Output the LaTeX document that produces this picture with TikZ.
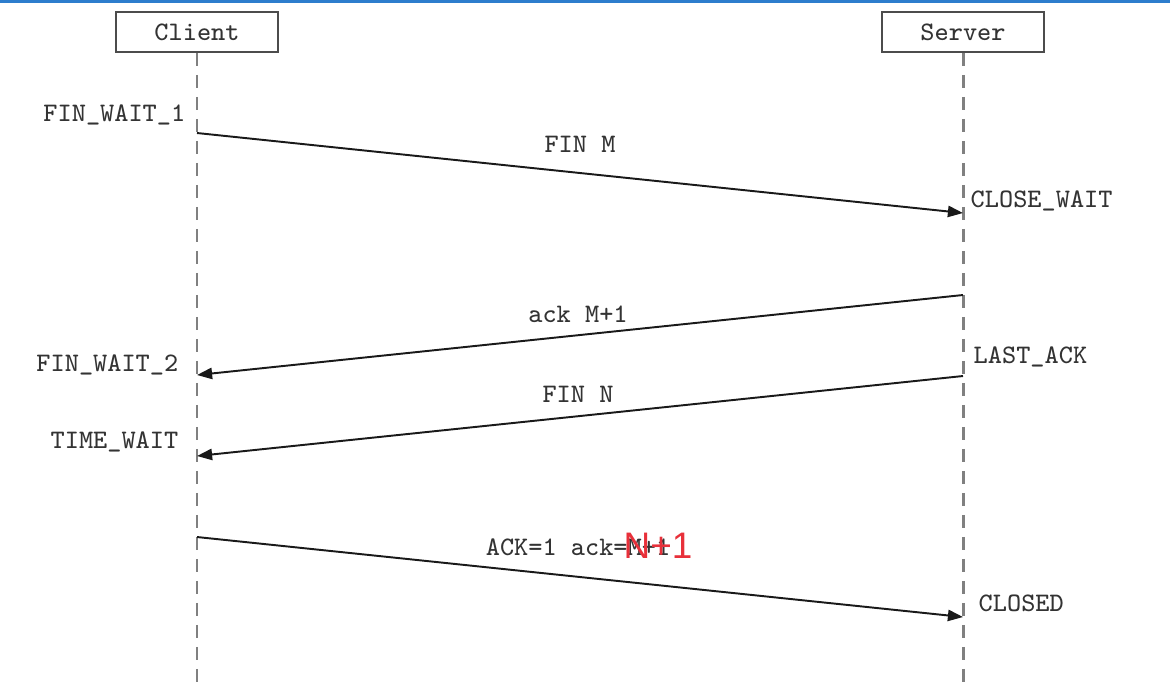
\documentclass[tikz,border=0pt]{standalone}
\usepackage{fontspec}
\setsansfont{Liberation Sans}
\usepackage{tikz}
\usetikzlibrary{arrows.meta}

\definecolor{barra}{RGB}{45,125,205}
\definecolor{rojo}{RGB}{232,48,58}

\begin{document}
\begin{tikzpicture}[
    font=\fontsize{7.6}{9}\selectfont\ttfamily,
    actor/.style  ={draw=black!70, line width=0.55pt, fill=white, minimum width=1.62cm,
                    minimum height=0.40cm, inner sep=0pt, text=black!80},
    vida/.style   ={draw=black!50, line width=0.85pt, dash pattern=on 0.13cm off 0.09cm},
    estado/.style ={inner sep=0pt, text=black!80},
    msg/.style    ={inner sep=0pt, text=black!80},
    fl/.style     ={-{Triangle[length=4.3pt,width=3.2pt]}, draw=black!90, line width=0.55pt}
  ]
  \useasboundingbox (0,0) rectangle (11.70,-6.86);
  \fill[barra] (0,0) rectangle (11.70,-0.03);

  % --- actores y lineas de vida ------------------------------------------
  \node[actor] (cli) at (1.97,-0.32) {Client};
  \node[actor] (ser) at (9.63,-0.32) {Server};
  \coordinate (cfin) at (1.97,-6.86);
  \coordinate (sfin) at (9.63,-6.86);
  \draw[vida] (cli.south) -- (cfin);
  \draw[vida] (ser.south) -- (sfin);

  % --- puntos de los mensajes --------------------------------------------
  \coordinate (c1) at (1.97,-1.33);  \coordinate (s1) at (9.63,-2.13);
  \coordinate (s2) at (9.63,-2.95);  \coordinate (c2) at (1.97,-3.75);
  \coordinate (s3) at (9.63,-3.76);  \coordinate (c3) at (1.97,-4.56);
  \coordinate (c4) at (1.97,-5.37);  \coordinate (s4) at (9.63,-6.17);

  \draw[fl] (c1) -- (s1);
  \draw[fl] (s2) -- (c2);
  \draw[fl] (s3) -- (c3);
  \draw[fl] (c4) -- (s4);

  % --- etiquetas de los mensajes -----------------------------------------
  \node[msg] (m1) at (5.80,-1.44) {FIN M};
  \node[msg] (m2) at (5.78,-3.14) {ack M+1};
  \node[msg] (m3) at (5.78,-3.94) {FIN N};
  \node[msg] (m4) at (5.78,-5.47) {ACK=1 ack=M+1};
  \node[inner sep=0pt, text=rojo, font=\fontsize{10.5}{12}\selectfont\sffamily] (m4b)
    at (6.58,-5.46) {N+1};

  % --- estados ------------------------------------------------------------
  \node[estado, anchor=east] (e1) at (1.86,-1.15) {FIN\_WAIT\_1};
  \node[estado, anchor=west] (e2) at (9.70,-2.01) {CLOSE\_WAIT};
  \node[estado, anchor=east] (e3) at (1.79,-3.65) {FIN\_WAIT\_2};
  \node[estado, anchor=west] (e4) at (9.73,-3.57) {LAST\_ACK};
  \node[estado, anchor=east] (e5) at (1.79,-4.42) {TIME\_WAIT};
  \node[estado, anchor=west] (e6) at (9.78,-6.03) {CLOSED};

\end{tikzpicture}
\end{document}
